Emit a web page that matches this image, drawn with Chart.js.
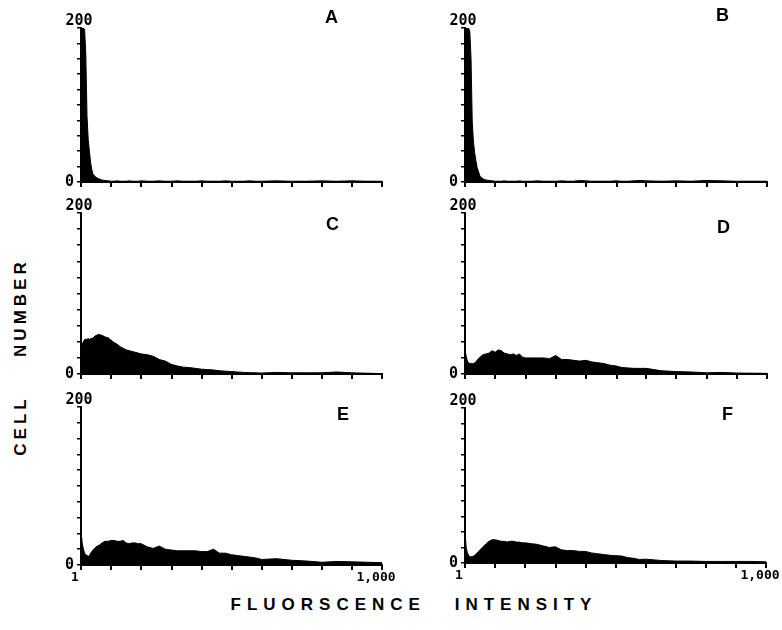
<!DOCTYPE html>
<html>
<head>
<meta charset="utf-8">
<script src="https://cdn.jsdelivr.net/npm/chart.js@4.4.1/dist/chart.umd.min.js"></script>
<style>
body { margin: 0; background: #fff; }
#wrap { position: relative; width: 782px; height: 630px; overflow: hidden; background: #fff; }
#wrap canvas { position: absolute; }
.letter { position: absolute; font: bold 18px "Liberation Sans", Arial, sans-serif; line-height: 18px; color: #000; }
.title { position: absolute; font: bold 17px "Liberation Sans", Arial, sans-serif; letter-spacing: 6px; white-space: pre; color: #000; }
</style>
</head>
<body>
<div id="wrap">
  <div class="title" id="ytitle" style="left:21px; top:357px; letter-spacing:4px; transform:translate(-50%,-50%) rotate(-90deg); word-spacing:30px;">CELL NUMBER</div>
  <div class="title" id="xtitle" style="left:414px; top:605px; transform:translate(-50%,-50%); word-spacing:18px;">FLUORSCENCE INTENSITY</div>
</div>
<script>
'use strict';

// channel position along the 3-decade log axis (0 = intensity 1, 1000 = intensity 1,000)
var channels = [0, 4, 8, 12, 16, 20, 24, 28, 32, 36, 40,
    50, 60, 70, 80, 90, 100, 110, 120, 130, 140, 150, 160, 170, 180, 190, 200,
    220, 240, 260, 280, 300, 320, 340, 360, 380, 400, 420, 440, 460, 480, 500, 520, 540, 560, 580, 600,
    650, 700, 750, 800, 850, 900, 950, 1000];

var countsA = [200, 200, 200, 198, 165, 85, 55, 40, 25, 16, 10,
    6, 4, 2.5, 2, 1.5, 1, 1, 1.5, 1, 1, 1, 1.5, 1, 1, 1, 1.5,
    1, 1, 1.5, 1, 1, 1.5, 1, 1, 1, 1.5, 1, 1, 1, 1.5, 1, 1, 1, 1.5, 1, 1,
    1.5, 1, 1, 1.5, 1, 1.5, 1, 1];

var countsB = [200, 200, 200, 200, 195, 160, 78, 52, 38, 28, 19,
    7, 4, 2.5, 2, 1.5, 1, 1, 1, 1.5, 1, 1, 1, 1, 1.5, 1, 1,
    1, 1.5, 1, 1, 1, 1.5, 1, 1, 2, 1.5, 1, 1, 1, 1, 1.5, 1, 1, 1.5, 2, 1.5,
    1, 1.5, 1, 2, 1.5, 1, 1, 1];

var countsC = [33, 37, 40, 43, 43, 43, 44, 43, 44, 44, 45,
    48, 49, 48, 46, 45, 42, 39, 37, 34, 32, 30, 29, 28, 27, 26, 25,
    24, 22, 18, 16, 12, 10, 8.5, 8, 7, 6, 5.5, 5, 4, 3.5, 3, 2.5, 2, 1.7, 1.5, 1.2,
    2, 1.5, 1.5, 1.5, 2.5, 1.5, 1, 0.5];

var countsD = [30, 22, 16, 14, 13, 13, 13, 13, 14, 15, 17,
    21, 24, 25, 26, 29, 27, 30, 29, 26, 25, 24, 25, 23, 25, 21, 20,
    20, 20, 20, 19, 23, 18, 18, 17, 16, 17, 15, 14, 13, 11, 10, 8, 7.5, 7, 7, 7,
    4, 3, 2.5, 1.5, 2, 1.2, 1, 0.8];

var countsE = [42, 28, 20, 15, 13, 12, 11, 12, 15, 17, 19,
    23, 25, 28, 30, 30, 31, 31, 30, 30, 31, 28, 27, 28, 28, 27, 27,
    23, 21, 24, 20, 19, 18, 18, 18, 18, 17, 17, 20, 15, 15, 13, 12, 11, 10, 9, 7,
    8, 6, 5, 3.5, 4.5, 4, 3.5, 3];

var countsF = [40, 20, 13, 10, 8, 8, 8, 9, 10, 11, 13,
    17, 21, 25, 28, 30, 30, 29, 28, 28, 27, 28, 28, 27, 27, 26, 26,
    25, 24, 22, 20, 21, 17, 16, 16, 15, 15, 13, 12, 11, 10, 9.5, 9, 7, 6, 4.5, 5,
    3.3, 2.5, 2.5, 2, 2, 2, 2, 1.5];

var xTickValues = [1, 2, 4, 8, 16, 32, 63, 126, 251, 501, 1000];
var xLabelValues = [1, 1000];
var yMax = 200;
var yStep = 20;

var Y_W = 40, X_H = 26, PAD_TOP = 16, PAD_RIGHT = 26;

var panels = [
    { name: 'A', counts: countsA, left: 81,  right: 382, top: 28,  bottom: 182, lx: 325, ly: 8,   xLabels: false },
    { name: 'B', counts: countsB, left: 465, right: 767, top: 28,  bottom: 182, lx: 716, ly: 6,   xLabels: false },
    { name: 'C', counts: countsC, left: 81,  right: 382, top: 213, bottom: 374, lx: 326, ly: 215, xLabels: false },
    { name: 'D', counts: countsD, left: 465, right: 767, top: 213, bottom: 374, lx: 717, ly: 218, xLabels: false },
    { name: 'E', counts: countsE, left: 81,  right: 382, top: 407, bottom: 565, lx: 337, ly: 405, xLabels: true },
    { name: 'F', counts: countsF, left: 465, right: 766, top: 408, bottom: 563, lx: 722, ly: 405, xLabels: true }
];

var monoFamily = '"DejaVu Sans Mono", "Liberation Mono", monospace';
var xFont = { family: monoFamily, size: 13, weight: 'bold' };
var yFont = { family: monoFamily, size: 15, weight: 'bold' };

// "200" above the top of the y axis, and the small marks under the x axis
var axisMarks = {
    id: 'axisMarks',
    afterDraw: function(chart) {
        var sx = chart.scales.x, sy = chart.scales.y;
        var ctx = chart.ctx;
        var base = sy.getPixelForValue(0);
        ctx.save();
        ctx.strokeStyle = '#000';
        ctx.lineWidth = 2;
        ctx.beginPath();
        xTickValues.forEach(function(v) {
            var px = Math.round(sx.getPixelForValue(v));
            ctx.moveTo(px, base - 1);
            ctx.lineTo(px, base + 5);
        });
        ctx.stroke();
        ctx.font = 'bold ' + yFont.size + 'px ' + yFont.family;
        ctx.fillStyle = '#000';
        ctx.textAlign = 'center';
        ctx.textBaseline = 'middle';
        ctx.fillText(String(yMax), sy.right - 2, sy.getPixelForValue(yMax) - 7);
        ctx.restore();
    }
};

function intensity(ch) {
    return Math.pow(10, 3 * ch / 1000);
}

function makePanel(p) {
    var wrap = document.getElementById('wrap');
    var canvas = document.createElement('canvas');
    var w = Y_W + (p.right - p.left) + PAD_RIGHT;
    var h = PAD_TOP + (p.bottom - p.top) + X_H;
    canvas.width = w;
    canvas.height = h;
    canvas.style.width = w + 'px';
    canvas.style.height = h + 'px';
    canvas.style.left = (p.left - Y_W) + 'px';
    canvas.style.top = (p.top - PAD_TOP) + 'px';
    wrap.appendChild(canvas);

    var letter = document.createElement('div');
    letter.className = 'letter';
    letter.textContent = p.name;
    letter.style.left = p.lx + 'px';
    letter.style.top = p.ly + 'px';
    wrap.appendChild(letter);

    var points = channels.map(function(ch, i) {
        return { x: intensity(ch), y: p.counts[i] };
    });

    new Chart(canvas, {
        type: 'line',
        data: {
            datasets: [{
                data: points,
                fill: 'origin',
                backgroundColor: '#000',
                borderColor: '#000',
                borderWidth: 1,
                pointRadius: 0,
                tension: 0
            }]
        },
        options: {
            responsive: false,
            animation: false,
            layout: { padding: { top: PAD_TOP, right: PAD_RIGHT, left: 0, bottom: 0 } },
            plugins: { legend: { display: false }, tooltip: { enabled: false } },
            scales: {
                x: {
                    type: 'logarithmic',
                    min: 1,
                    max: 1000,
                    grid: { display: true, drawOnChartArea: false, drawTicks: false },
                    border: { display: true, color: '#000', width: 2 },
                    afterBuildTicks: function(scale) {
                        scale.ticks = xTickValues.map(function(v) { return { value: v }; });
                    },
                    afterFit: function(scale) { scale.height = X_H; },
                    ticks: {
                        autoSkip: false,
                        maxRotation: 0,
                        padding: 5,
                        labelOffset: -6,
                        color: '#000',
                        font: xFont,
                        callback: function(value, index, ticks) {
                            var v = ticks[index].value;
                            if (!p.xLabels || xLabelValues.indexOf(v) < 0) return '';
                            return v.toLocaleString('en-US');
                        }
                    }
                },
                y: {
                    type: 'linear',
                    min: 0,
                    max: yMax,
                    grid: { display: true, drawOnChartArea: false, drawTicks: true, tickLength: 4, color: '#000', lineWidth: 1.5 },
                    border: { display: true, color: '#000', width: 2 },
                    afterFit: function(scale) { scale.width = Y_W; },
                    ticks: {
                        stepSize: yStep,
                        autoSkip: false,
                        padding: 3,
                        color: '#000',
                        font: yFont,
                        callback: function(value) { return value === 0 ? '0' : ''; }
                    }
                }
            }
        },
        plugins: [axisMarks]
    });
}

panels.forEach(makePanel);
</script>
</body>
</html>
